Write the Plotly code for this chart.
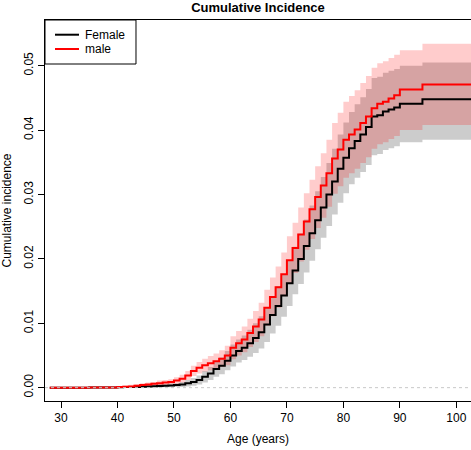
import plotly.graph_objects as go

# ---- data ----
ages = [28, 35, 40] + list(range(41, 91)) + [94, 103]

female = [0.0, 0.00003, 0.00008, 0.0001, 0.0001, 0.00012, 0.00015, 0.0002, 0.00022, 0.00027,
          0.0003, 0.00035, 0.0004, 0.0005, 0.0007, 0.0009, 0.0012, 0.0017, 0.0022, 0.0029,
          0.0034, 0.0042, 0.0050, 0.0057, 0.0062, 0.0069, 0.0077, 0.0086, 0.0098, 0.0113,
          0.0127, 0.0143, 0.0162, 0.0182, 0.0200, 0.0220, 0.0240, 0.0260, 0.0280, 0.0300,
          0.0320, 0.0340, 0.0357, 0.0372, 0.0383, 0.0393, 0.0405, 0.0421, 0.0423, 0.0429,
          0.0432, 0.0435, 0.0441, 0.0448, 0.0448]
female_lo = [0, 0, 0, 0, 0, 0, 0, 0, 0.00002, 0.00002,
             0.00005, 0.00005, 0.0001, 0.0001, 0.0002, 0.0003, 0.0005, 0.0008, 0.0012, 0.0017,
             0.0021, 0.0027, 0.0033, 0.0039, 0.0043, 0.0048, 0.0054, 0.0061, 0.0071, 0.0084,
             0.0096, 0.0110, 0.0127, 0.0145, 0.0161, 0.0179, 0.0197, 0.0215, 0.0233, 0.0251,
             0.0269, 0.0287, 0.0302, 0.0316, 0.0326, 0.0335, 0.0346, 0.0361, 0.0363, 0.0369,
             0.0372, 0.0375, 0.0381, 0.0385, 0.0385]
female_hi = [0, 0.0001, 0.0002, 0.00025, 0.00025, 0.00027, 0.0003, 0.0004, 0.00042, 0.00052,
             0.00055, 0.00065, 0.0007, 0.0009, 0.0012, 0.0015, 0.0019, 0.0026, 0.0032, 0.0041,
             0.0047, 0.0057, 0.0067, 0.0075, 0.0081, 0.0090, 0.0100, 0.0111, 0.0125, 0.0142,
             0.0158, 0.0176, 0.0197, 0.0219, 0.0239, 0.0261, 0.0283, 0.0305, 0.0327, 0.0349,
             0.0371, 0.0393, 0.0412, 0.0428, 0.0440, 0.0451, 0.0464, 0.0481, 0.0483, 0.0489,
             0.0492, 0.0495, 0.0500, 0.0505, 0.0505]

male = [0.0, 0.00003, 0.0001, 0.00015, 0.0002, 0.0003, 0.0004, 0.0005, 0.0006, 0.0007,
        0.0008, 0.0009, 0.0011, 0.0014, 0.0019, 0.0026, 0.0031, 0.0035, 0.0038, 0.0041,
        0.0045, 0.0050, 0.0062, 0.0069, 0.0075, 0.0085, 0.0095, 0.0106, 0.0124, 0.0141,
        0.0156, 0.0176, 0.0198, 0.0217, 0.0238, 0.0258, 0.0277, 0.0296, 0.0314, 0.0333,
        0.0356, 0.0370, 0.0385, 0.0393, 0.0401, 0.0411, 0.0421, 0.0434, 0.0441, 0.0444,
        0.0449, 0.0454, 0.0463, 0.0471, 0.0471]
male_lo = [0, 0, 0, 0, 0, 0.00005, 0.0001, 0.0002, 0.0003, 0.0003,
           0.0004, 0.0005, 0.0006, 0.0008, 0.0012, 0.0018, 0.0022, 0.0025, 0.0027, 0.0029,
           0.0032, 0.0035, 0.0044, 0.0050, 0.0055, 0.0063, 0.0071, 0.0080, 0.0096, 0.0111,
           0.0124, 0.0142, 0.0161, 0.0178, 0.0196, 0.0214, 0.0231, 0.0248, 0.0264, 0.0281,
           0.0301, 0.0313, 0.0326, 0.0333, 0.0340, 0.0349, 0.0358, 0.0371, 0.0378, 0.0381,
           0.0386, 0.0391, 0.0400, 0.0408, 0.0408]
male_hi = [0, 0.00013, 0.0002, 0.00035, 0.00045, 0.00055, 0.0007, 0.0008, 0.0009, 0.0011,
           0.0012, 0.0013, 0.0016, 0.0020, 0.0026, 0.0034, 0.0040, 0.0045, 0.0049, 0.0053,
           0.0058, 0.0065, 0.0080, 0.0088, 0.0095, 0.0107, 0.0119, 0.0132, 0.0152, 0.0171,
           0.0188, 0.0210, 0.0235, 0.0256, 0.0280, 0.0302, 0.0323, 0.0344, 0.0364, 0.0385,
           0.0411, 0.0427, 0.0444, 0.0453, 0.0462, 0.0473, 0.0484, 0.0497, 0.0504, 0.0507,
           0.0512, 0.0517, 0.0524, 0.0534, 0.0534]

x_ticks = [30, 40, 50, 60, 70, 80, 90, 100]
y_ticks = [0.0, 0.01, 0.02, 0.03, 0.04, 0.05]
series_names = ["Female", "male"]

FONT = "Liberation Sans, Arial, Helvetica, sans-serif"

fig = go.Figure()

# Female band (grey)
fig.add_trace(go.Scatter(x=ages, y=female_lo, mode="lines", line=dict(width=0, shape="hv"),
                         showlegend=False, hoverinfo="skip"))
fig.add_trace(go.Scatter(x=ages, y=female_hi, mode="lines", line=dict(width=0, shape="hv"),
                         fill="tonexty", fillcolor="rgba(0,0,0,0.2)", showlegend=False,
                         hoverinfo="skip"))
# Male band (pink)
fig.add_trace(go.Scatter(x=ages, y=male_lo, mode="lines", line=dict(width=0, shape="hv"),
                         showlegend=False, hoverinfo="skip"))
fig.add_trace(go.Scatter(x=ages, y=male_hi, mode="lines", line=dict(width=0, shape="hv"),
                         fill="tonexty", fillcolor="rgba(255,0,0,0.2)", showlegend=False,
                         hoverinfo="skip"))
# Curves
fig.add_trace(go.Scatter(x=ages, y=female, mode="lines", name=series_names[0],
                         line=dict(color="black", width=2, shape="hv"), showlegend=False))
fig.add_trace(go.Scatter(x=ages, y=male, mode="lines", name=series_names[1],
                         line=dict(color="#ff0000", width=2, shape="hv"), showlegend=False))

# dotted reference line at zero
fig.add_hline(y=0, line=dict(color="#c8c8c8", width=1, dash="dot"))

# manual legend (box, line samples, labels)
fig.add_shape(type="rect", xref="paper", yref="paper", x0=0, x1=0.2136, y0=0.8845, y1=1,
              line=dict(color="black", width=1), fillcolor="white", layer="above")
legend_y = [0.9614, 0.9239]
legend_col = ["black", "#ff0000"]
for name, yy, col in zip(series_names, legend_y, legend_col):
    fig.add_shape(type="line", xref="paper", yref="paper", x0=0.0235, x1=0.0798, y0=yy, y1=yy,
                  line=dict(color=col, width=2), layer="above")
    fig.add_annotation(xref="paper", yref="paper", x=0.0892, y=yy, text=name, showarrow=False,
                       xanchor="left", yanchor="middle", font=dict(family=FONT, size=12, color="black"))

fig.update_layout(
    width=471, height=450,
    margin=dict(l=45, r=0, t=20, b=49),
    paper_bgcolor="white", plot_bgcolor="white",
    font=dict(family=FONT, size=12, color="black"),
    title=dict(text="<b>Cumulative Incidence</b>", x=258 / 471,
               xanchor="center", y=1 - 7 / 450, yanchor="middle",
               font=dict(family=FONT, size=13, color="black")),
    showlegend=False,
)
fig.update_xaxes(range=[27.16, 102.6], tickvals=x_ticks, ticktext=[str(v) for v in x_ticks],
                 ticks="outside", ticklen=6, tickcolor="black", showline=True, linecolor="black",
                 linewidth=1, mirror=True, showgrid=False, zeroline=False,
                 title=dict(text="Age (years)", standoff=10, font=dict(size=12)),
                 tickfont=dict(size=12))
fig.update_yaxes(range=[-0.00207, 0.0571], tickvals=y_ticks, ticktext=["%.2f" % v for v in y_ticks],
                 tickangle=-90, ticks="outside", ticklen=6, tickcolor="black", showline=True,
                 linecolor="black", linewidth=1, mirror=True, showgrid=False, zeroline=False,
                 title=dict(text="Cumulative incidence", standoff=10, font=dict(size=12)),
                 tickfont=dict(size=12))

fig.write_html("out.html", config={"displayModeBar": False},
               post_script="document.body.style.margin='0';document.body.style.padding='0';")
